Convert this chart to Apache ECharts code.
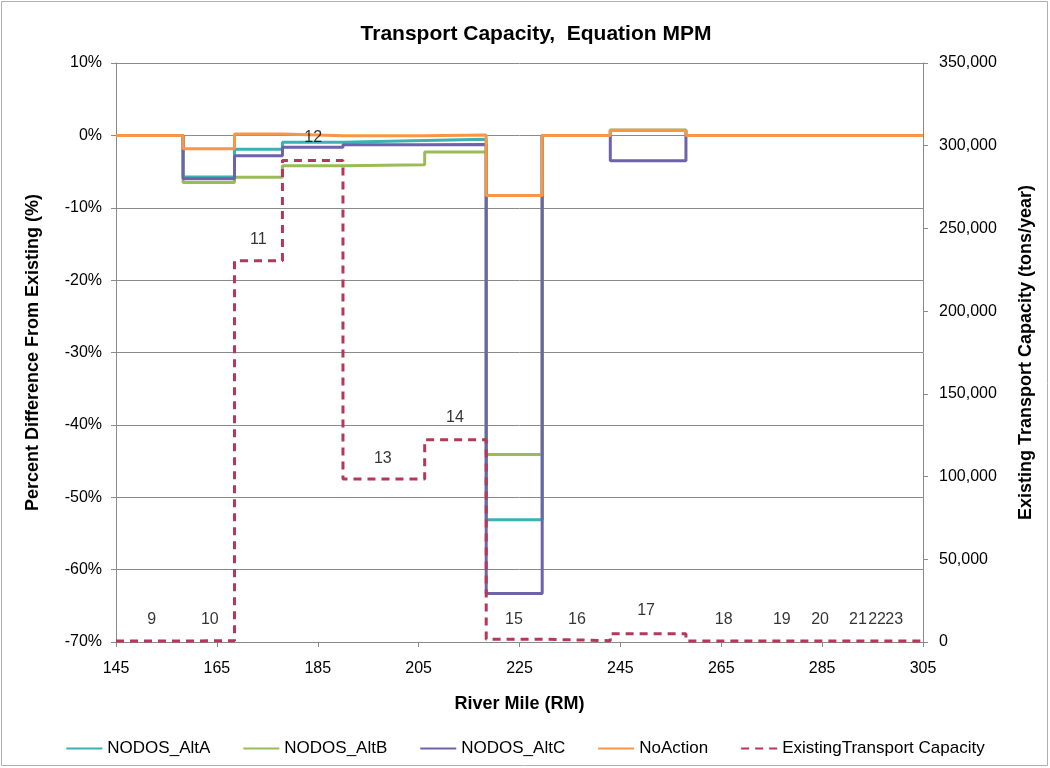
<!DOCTYPE html>
<html>
<head>
<meta charset="utf-8">
<script src="https://cdn.jsdelivr.net/npm/echarts@6/dist/echarts.min.js"></script>
<style>
html,body{margin:0;padding:0;background:#fff;}
#chart{width:1050px;height:768px;}
</style>
</head>
<body>
<div id="chart"></div>
<script>
// River-mile boundaries of the reaches (step edges)
const reachBounds = [145, 158.3, 168.5, 178, 190, 206.2, 218.4, 229.5, 243, 258, 305];
// Percent difference from existing, one value per reach
const altA     = [0, -5.75, -1.9, -0.95, -0.72, -0.55, -53.1, 0, 0.7, 0];
const altB     = [0, -6.5, -5.8, -4.2, -4.05, -2.3, -44.1, 0, 0.7, 0];
const altC     = [0, -6.0, -2.8, -1.65, -1.3, -1.25, -63.3, 0, -3.5, 0];
const noAction = [0, -1.85, 0.2, -0.05, -0.05, 0.05, -8.3, 0, 0.7, 0];
// Existing transport capacity (tons/year), one value per reach
const existing = [600, 800, 230500, 291000, 98500, 122300, 1700, 800, 5000, 600];
// Reach number labels: name, river mile, capacity-axis height
const reachNames = ['9','10','11','12','13','14','15','16','17','18','19','20','21','22','23'];
const reachLabelX = [152.1, 163.6, 173.2, 184.1, 197.9, 212.2, 223.9, 236.4, 250.1, 265.5, 277.0, 284.6, 292.1, 295.9, 299.3];
const reachLabelY = [13500, 13500, 243200, 305000, 111000, 135600, 13500, 13500, 18900, 13500, 13500, 13500, 13500, 13500, 13500];
// Axis ticks
const xTicks = {min: 145, max: 305, interval: 20};
const yLeftTicks = {min: -70, max: 10, interval: 10};
const yRightTicks = {min: 0, max: 350000, interval: 50000};

function steps(vals) {
  const pts = [];
  for (let i = 0; i < vals.length; i++) {
    pts.push([reachBounds[i], vals[i]]);
    pts.push([reachBounds[i + 1], vals[i]]);
  }
  return pts;
}

const FONT = 'Liberation Sans, Arial, sans-serif';
const GRAY = '#8a8a8a';
const chart = echarts.init(document.getElementById('chart'));

function solid(name, vals, color) {
  return {
    name: name, type: 'line', data: steps(vals), symbol: 'none', xAxisIndex: 0, yAxisIndex: 0,
    lineStyle: {color: color, width: 3}, itemStyle: {color: color}, animation: false
  };
}

chart.setOption({
  animation: false,
  backgroundColor: '#fff',
  textStyle: {fontFamily: FONT},
  graphic: [{
    type: 'rect', shape: {x: 1.5, y: 1.5, width: 1046, height: 764},
    style: {fill: 'none', stroke: '#b0b0b0', lineWidth: 1}, silent: true, z: -10
  }],
  title: {
    text: 'Transport Capacity,  Equation MPM', left: 531, top: 19, textAlign: 'center',
    textStyle: {fontFamily: FONT, fontSize: 21, fontWeight: 'bold', color: '#000'}
  },
  legend: {
    data: ['NODOS_AltA', 'NODOS_AltB', 'NODOS_AltC', 'NoAction', 'ExistingTransport Capacity'],
    left: 'center', top: 735, itemWidth: 36, itemHeight: 12, itemGap: 32,
    itemStyle: {opacity: 0},
    textStyle: {fontFamily: FONT, fontSize: 17, color: '#000'}
  },
  grid: {left: 116, right: 127, top: 63, bottom: 126, containLabel: false},
  xAxis: {
    type: 'value', min: xTicks.min, max: xTicks.max, interval: xTicks.interval,
    name: 'River Mile (RM)', nameLocation: 'middle', nameGap: 53,
    nameTextStyle: {fontFamily: FONT, fontSize: 18, fontWeight: 'bold', color: '#000'},
    axisLine: {show: true, onZero: false, lineStyle: {color: GRAY}},
    axisTick: {show: true, length: 5, lineStyle: {color: GRAY}},
    axisLabel: {fontFamily: FONT, fontSize: 16, color: '#000', margin: 19},
    splitLine: {show: false}
  },
  yAxis: [{
    type: 'value', min: yLeftTicks.min, max: yLeftTicks.max, interval: yLeftTicks.interval,
    position: 'left',
    name: 'Percent Difference From Existing (%)', nameLocation: 'middle', nameGap: 74,
    nameTextStyle: {fontFamily: FONT, fontSize: 18, fontWeight: 'bold', color: '#000'},
    axisLine: {show: true, lineStyle: {color: GRAY}},
    axisTick: {show: true, length: 5, lineStyle: {color: GRAY}},
    axisLabel: {fontFamily: FONT, fontSize: 16, color: '#000', margin: 14, formatter: '{value}%'},
    splitLine: {show: true, lineStyle: {color: GRAY, width: 1}}
  }, {
    type: 'value', min: yRightTicks.min, max: yRightTicks.max, interval: yRightTicks.interval,
    position: 'right',
    name: 'Existing Transport Capacity (tons/year)', nameLocation: 'middle', nameGap: 94,
    nameRotate: 90,
    nameTextStyle: {fontFamily: FONT, fontSize: 18, fontWeight: 'bold', color: '#000'},
    axisLine: {show: true, lineStyle: {color: GRAY}},
    axisTick: {show: true, length: 5, lineStyle: {color: GRAY}},
    axisLabel: {fontFamily: FONT, fontSize: 16, color: '#000', margin: 16,
      formatter: v => v.toLocaleString('en-US')},
    splitLine: {show: false}
  }],
  series: [
    solid('NODOS_AltA', altA, '#3AB1B2'),
    solid('NODOS_AltB', altB, '#9BBB59'),
    solid('NODOS_AltC', altC, '#6E62A8'),
    solid('NoAction', noAction, '#F79646'),
    {
      name: 'ExistingTransport Capacity', type: 'line', data: steps(existing), symbol: 'none',
      yAxisIndex: 1, lineStyle: {color: '#B5375A', width: 3, type: [8, 6]},
      itemStyle: {color: '#B5375A'}, z: 3
    },
    {
      name: 'reach', type: 'scatter', yAxisIndex: 1, symbolSize: 0.1, silent: true,
      data: reachNames.map((n, i) => ({name: n, value: [reachLabelX[i], reachLabelY[i]]})),
      label: {show: true, position: 'inside', formatter: p => p.name,
        fontFamily: FONT, fontSize: 16, color: '#000'},
      z: 5
    }
  ]
});
</script>
</body>
</html>
